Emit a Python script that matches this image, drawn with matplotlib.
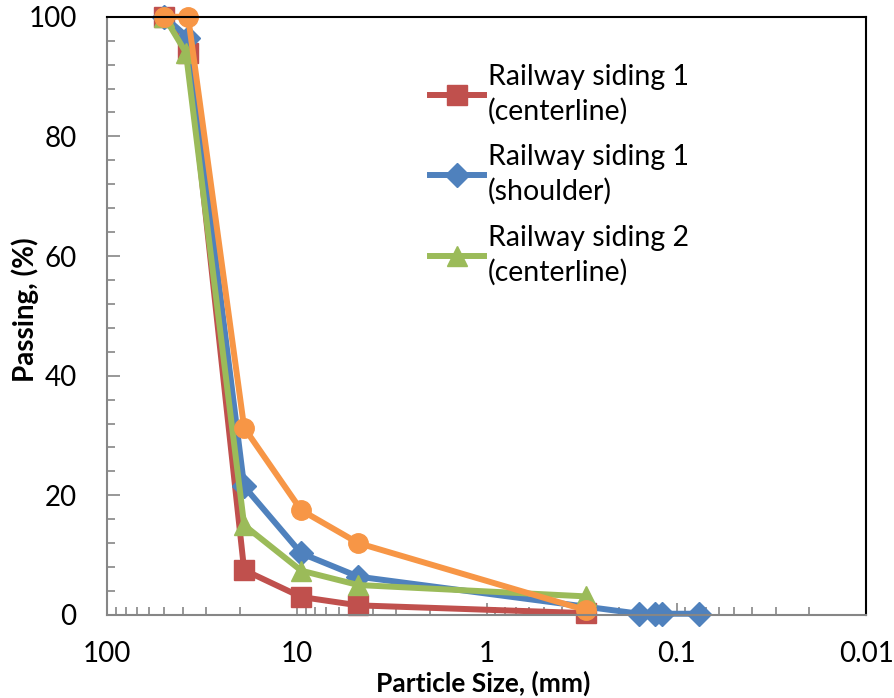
import matplotlib
matplotlib.use("Agg")
import matplotlib.pyplot as plt
from matplotlib.ticker import MultipleLocator, LogLocator, NullFormatter, FixedLocator

plt.rcParams['font.family'] = ['Lato', 'DejaVu Sans']

# sieve sizes (mm) and percent passing
size_r1c = [50, 37.5, 19, 9.5, 4.75, 0.3]
pass_r1c = [100, 94, 7.5, 3.0, 1.6, 0.3]

size_r1s = [50, 37.5, 19, 9.5, 4.75, 0.157, 0.13, 0.12, 0.076]
pass_r1s = [100, 96.5, 21.5, 10.3, 6.4, 0.2, 0.2, 0.2, 0.2]

size_r2c = [50, 38.5, 19, 9.5, 4.75, 0.3]
pass_r2c = [100, 94, 15, 7.4, 5.0, 3.1]

size_x = [50, 37.5, 19, 9.5, 4.75, 0.3]
pass_x = [100, 100, 31.3, 17.5, 12, 0.8]

labels = ["Railway siding 1\n(centerline)", "Railway siding 1\n(shoulder)",
          "Railway siding 2\n(centerline)"]

fig = plt.figure(figsize=(8.94, 6.98), dpi=100)
ax = fig.add_axes([0.12, 0.119, 0.849, 0.857])

lw = 4.3
ax.plot(size_r1c, pass_r1c, color="#c0504d", marker="s", ms=14, lw=lw, label=labels[0], clip_on=False)
ax.plot(size_r1s, pass_r1s, color="#4f81bd", marker="D", ms=12, lw=lw, label=labels[1], clip_on=False)
ax.plot(size_r2c, pass_r2c, color="#9bbb59", marker="^", ms=15, lw=lw, label=labels[2], clip_on=False)
ax.plot(size_x, pass_x, color="#f79646", marker="o", ms=14, lw=lw, clip_on=False)

ax.set_xscale("log")
ax.set_xlim(100, 0.01)
ax.set_ylim(0, 100)

ax.xaxis.set_major_locator(FixedLocator([100, 10, 1, 0.1, 0.01]))
ax.set_xticklabels(["100", "10", "1", "0.1", "0.01"])
ax.xaxis.set_minor_locator(LogLocator(base=10, subs=range(2, 10)))
ax.xaxis.set_minor_formatter(NullFormatter())
ax.yaxis.set_major_locator(MultipleLocator(20))
ax.yaxis.set_minor_locator(MultipleLocator(4))

ax.tick_params(axis="x", which="major", direction="in", length=9, width=1.2, color="#868686",
               labelsize=20, pad=19)
ax.tick_params(axis="x", which="minor", direction="in", length=6, width=1.2, color="#868686")
ax.tick_params(axis="y", which="major", direction="in", length=9, width=1.2, color="#868686",
               labelsize=20, pad=22)
ax.tick_params(axis="y", which="minor", direction="in", length=6, width=1.2, color="#868686")

for s in ["left", "bottom"]:
    ax.spines[s].set_color("#868686")
    ax.spines[s].set_linewidth(1.5)
for s in ["top", "right"]:
    ax.spines[s].set_color("black")
    ax.spines[s].set_linewidth(1.5)

ax.set_xlabel("Particle Size, (mm)", fontsize=19, fontweight="bold", va="center")
ax.set_ylabel("Passing, (%)", fontsize=20, fontweight="bold", va="center")
ax.xaxis.set_label_coords(0.495, -0.115)
ax.yaxis.set_label_coords(-0.108, 0.51)

leg = ax.legend(loc="upper left", bbox_to_anchor=(0.41, 0.94), frameon=False, fontsize=20.5,
                handlelength=1.9, handletextpad=0.15, labelspacing=0.7, borderaxespad=0)
for t in leg.get_texts():
    t.set_linespacing(1.35)

fig.savefig("out.png", dpi=100)
